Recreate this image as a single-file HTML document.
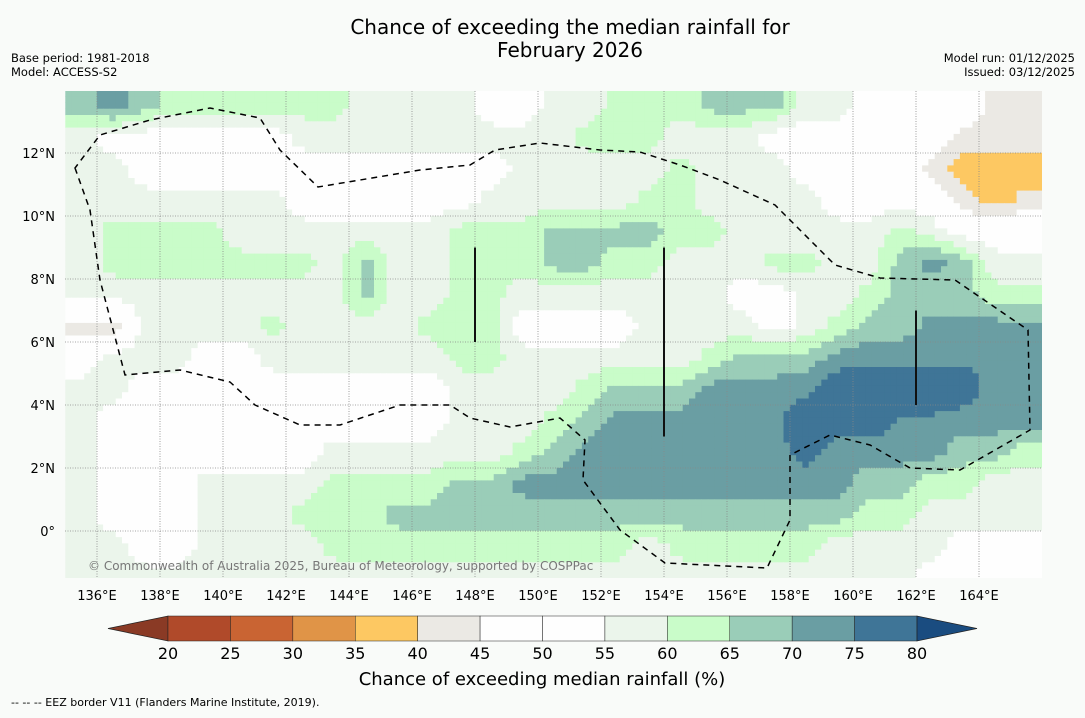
<!DOCTYPE html>
<html><head><meta charset="utf-8"><style>
body{margin:0;background:#f9fbf9;font-family:"Liberation Sans","DejaVu Sans",sans-serif;}
svg text{font-family:"DejaVu Sans","Liberation Sans",sans-serif;}
</style></head><body>
<svg id="chart" width="1085" height="713" xmlns="http://www.w3.org/2000/svg">
<rect width="1085" height="713" fill="#f9fbf9"/>
<text x="570" y="34" font-size="20" text-anchor="middle">Chance of exceeding the median rainfall for</text>
<text x="570" y="57" font-size="20" text-anchor="middle">February 2026</text>
<text x="11" y="62" font-size="11.5">Base period: 1981-2018</text>
<text x="11" y="76" font-size="11.5">Model: ACCESS-S2</text>
<text x="1075" y="62" font-size="11.5" text-anchor="end">Model run: 01/12/2025</text>
<text x="1075" y="76" font-size="11.5" text-anchor="end">Issued: 03/12/2025</text>
<g id="map"></g>
<g id="cbar"></g>
<text x="542" y="685" font-size="18" text-anchor="middle">Chance of exceeding median rainfall (%)</text>
<text x="11" y="706" font-size="11">--  --  -- EEZ border V11 (Flanders Marine Institute, 2019).</text>
</svg>
<script>
const lons=[135,136,137,138,139,140,141,142,143,144,145,146,147,148,149,150,151,152,153,154,155,156,157,158,159,160,161,162,163,164,165];
const lats=[13,12,11,10,9,8,7,6,5,4,3,2,1,0,-1,-2];
const grid=[
[67,74,67,62,62,62,62,62,62,57,57,57,57,52,52,57,57,62,62,62,67,67,67,57,57,52,52,52,52,42,42],
[57,52,52,52,52,52,52,57,57,57,57,57,57,57,57,57,62,62,62,57,57,57,52,52,52,52,52,52,42,42,42],
[57,57,52,52,52,52,52,52,52,52,52,52,52,52,57,57,57,57,57,62,57,57,57,52,52,52,52,42,37,37,37],
[57,57,57,57,57,57,57,52,52,52,52,52,52,57,57,57,57,57,62,62,57,57,57,57,52,52,52,52,42,37,42],
[57,62,62,62,62,57,57,57,57,57,57,57,62,62,62,67,67,67,67,62,62,57,57,57,57,57,62,57,52,52,52],
[57,62,62,62,62,62,62,62,57,67,57,57,62,62,62,67,67,62,62,57,57,57,62,62,57,57,67,72,67,57,57],
[57,57,57,57,57,57,57,57,57,67,57,57,62,62,57,57,57,57,57,57,57,52,52,57,57,62,67,67,67,62,62],
[42,42,57,57,57,57,62,57,57,57,57,62,62,62,52,52,52,52,57,57,57,57,52,57,62,67,67,72,72,72,72],
[52,57,57,57,52,52,57,57,57,57,57,57,62,62,57,57,57,57,57,57,62,67,67,67,72,74,74,74,74,74,74],
[57,57,52,52,52,52,52,52,52,52,52,52,57,57,57,57,62,67,67,67,72,72,72,74,79,79,79,79,79,72,72],
[57,52,52,52,52,52,52,52,52,52,52,52,57,57,57,62,67,72,72,72,72,72,74,79,79,79,74,74,72,72,72],
[57,52,52,52,52,52,52,52,57,57,57,57,57,57,62,67,72,72,72,72,72,72,72,78,72,72,72,72,67,67,62],
[57,52,52,52,57,57,57,57,62,62,62,62,67,67,72,72,72,72,72,72,72,72,72,72,72,67,67,62,62,57,57],
[57,52,52,52,57,57,57,62,62,62,67,67,67,67,67,67,67,67,67,67,67,67,67,67,67,62,62,57,57,57,57],
[57,57,52,52,57,57,57,57,62,62,62,62,62,62,62,62,62,62,57,62,62,62,62,62,57,57,57,57,52,52,52],
[57,57,57,57,57,57,57,57,57,57,57,57,57,57,57,57,57,57,57,57,57,57,57,57,57,57,57,52,52,52,52]];
const levels=[20,25,30,35,40,45,50,55,60,65,70,75,80];
const levelColors=["#b04a2a","#c96433","#e09447","#fdc862","#ebe9e4","#fefefe","#fefefe","#ebf5eb","#c9fcc9","#9acdb8","#6a9ea3","#3f7597"];
const xTicks=[136,138,140,142,144,146,148,150,152,154,156,158,160,162,164];
const yTicks=[0,2,4,6,8,10,12];
const cbTicks=[20,25,30,35,40,45,50,55,60,65,70,75,80];
const NS="http://www.w3.org/2000/svg";
const X0=65,X1=1042,Y0=91,Y1=578;
const px=l=>97+(l-136)*31.5;
const py=a=>531-a*31.5;
function mk(t,at,p){const e=document.createElementNS(NS,t);for(const k in at)e.setAttribute(k,at[k]);p.appendChild(e);return e;}
function colorFor(v){for(let i=0;i<levelColors.length;i++){if(v<levels[i+1])return levelColors[i];}return "#1a4c80";}
function sample(lon,lat){
 let fc=lon-(lons[0]+0.5), fr=(lats[0]+0.5)-lat;
 fc=Math.max(0,Math.min(lons.length-1,fc)); fr=Math.max(0,Math.min(lats.length-1,fr));
 const c0=Math.floor(fc),r0=Math.floor(fr),c1=Math.min(c0+1,lons.length-1),r1=Math.min(r0+1,lats.length-1);
 const tx=fc-c0,ty=fr-r0;
 const a=grid[r0][c0]*(1-tx)+grid[r0][c1]*tx, b=grid[r1][c0]*(1-tx)+grid[r1][c1]*tx;
 return a*(1-ty)+b*ty;
}
const map=document.getElementById('map');
const clip=mk('clipPath',{id:'mc'},map);mk('rect',{x:X0,y:Y0,width:X1-X0,height:Y1-Y0},clip);
const cg=mk('g',{'clip-path':'url(#mc)'},map);
const step=0.2, cs=31.5*step;
for(let lat=lats[0]+1-step/2; lat>lats[lats.length-1]; lat-=step){
 for(let lon=lons[0]+step/2; lon<lons[lons.length-1]+1; lon+=step){
  const v=sample(lon,lat);
  const e=mk('rect',{x:(px(lon)-cs/2-0.2).toFixed(2),y:(py(lat)-cs/2-0.2).toFixed(2),width:(cs+0.4).toFixed(2),height:(cs+0.4).toFixed(2),fill:colorFor(v)},cg);
  
  
 }
}
xTicks.forEach(t=>{const l=mk('line',{x1:px(t),x2:px(t),y1:Y0,y2:Y1,stroke:'#888','stroke-width':0.8,'stroke-dasharray':'1,1.5'},cg);
 
 const tx=mk('text',{x:px(t),y:600,'font-size':13,'text-anchor':'middle'},map);tx.textContent=t+'°E';
 });
yTicks.forEach(t=>{const l=mk('line',{x1:X0,x2:X1,y1:py(t),y2:py(t),stroke:'#888','stroke-width':0.8,'stroke-dasharray':'1,1.5'},cg);
 
 const tx=mk('text',{x:55,y:py(t)+5,'font-size':13,'text-anchor':'end'},map);tx.textContent=t===0?'0°':t+'°N';
 });
const eez=mk('path',{d:'M75,168 L90,210 L100,280 L125,375 L180,370 L230,382 L255,405 L300,425 L340,425 L400,405 L450,405 L470,418 L510,427 L560,418 L585,440 L583,480 L620,530 L665,563 L767,568 L790,520 L790,455 L830,435 L870,445 L910,468 L960,470 L1030,430 L1028,330 L955,280 L880,278 L835,265 L800,230 L775,205 L720,180 L680,165 L640,152 L600,150 L540,143 L495,150 L470,165 L420,170 L360,180 L318,187 L280,150 L260,118 L210,108 L150,120 L100,135 Z',fill:'none',stroke:'#000','stroke-width':1.5,'stroke-dasharray':'6,5'},cg);

[[148,6,9],[154,3,9],[162,4,7]].forEach(s=>{const l=mk('line',{x1:px(s[0]),x2:px(s[0]),y1:py(s[2]),y2:py(s[1]),stroke:'#111','stroke-width':2},cg);
 });
const cr=mk('text',{x:88,y:570,'font-size':12,fill:'#777'},cg);cr.textContent='© Commonwealth of Australia 2025, Bureau of Meteorology, supported by COSPPac';

const cb=document.getElementById('cbar');
const cx=v=>168+(v-20)*(749/60);const cy0=616,cy1=641;
const lt=mk('polygon',{points:`108,${(cy0+cy1)/2} 168,${cy0} 168,${cy1}`,fill:'#8a3a25',stroke:'#222','stroke-width':0.7},cb);

for(let i=0;i<levelColors.length;i++){const r=mk('rect',{x:cx(levels[i]),y:cy0,width:cx(levels[i+1])-cx(levels[i]),height:cy1-cy0,fill:levelColors[i],stroke:'#222','stroke-width':0.5},cb);
 }
const rt=mk('polygon',{points:`977,${(cy0+cy1)/2} 917,${cy0} 917,${cy1}`,fill:'#1a4c80',stroke:'#222','stroke-width':0.7},cb);

cbTicks.forEach(t=>{const tx=mk('text',{x:cx(t),y:659,'font-size':16,'text-anchor':'middle'},cb);tx.textContent=t;
 });
</script>
</body></html>
